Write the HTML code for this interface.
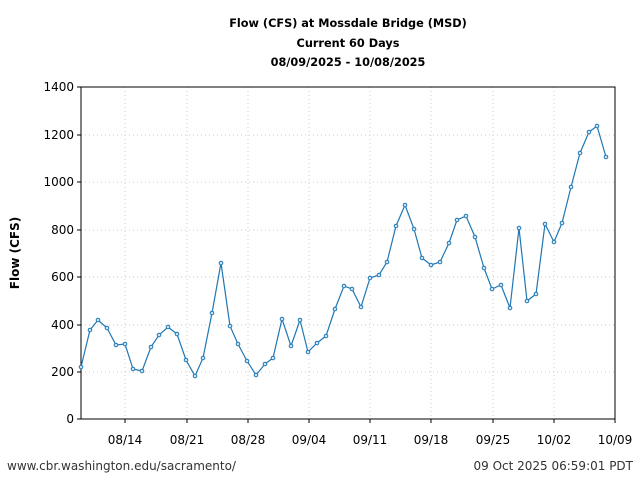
<!DOCTYPE html>
<html><head><meta charset="utf-8"><style>body{margin:0;background:#fff}svg{display:block}text{font-family:"DejaVu Sans","Liberation Sans",sans-serif}</style></head><body>
<svg width="640" height="480" viewBox="0 0 640 480">
<rect width="640" height="480" fill="#fff"/>
<g font-size="11.3" font-weight="bold" text-anchor="middle" fill="#000">
<text x="348" y="27">Flow (CFS) at Mossdale Bridge (MSD)</text>
<text x="348" y="47">Current 60 Days</text>
<text x="348" y="66">08/09/2025 - 10/08/2025</text>
</g>
<g stroke="#ccc" stroke-dasharray="1,3" stroke-width="1">
<line x1="125" y1="87" x2="125" y2="419"/><line x1="187" y1="87" x2="187" y2="419"/><line x1="248" y1="87" x2="248" y2="419"/><line x1="309" y1="87" x2="309" y2="419"/><line x1="370" y1="87" x2="370" y2="419"/><line x1="431" y1="87" x2="431" y2="419"/><line x1="493" y1="87" x2="493" y2="419"/><line x1="554" y1="87" x2="554" y2="419"/>
<line x1="81" y1="372" x2="615" y2="372"/><line x1="81" y1="325" x2="615" y2="325"/><line x1="81" y1="277" x2="615" y2="277"/><line x1="81" y1="230" x2="615" y2="230"/><line x1="81" y1="182" x2="615" y2="182"/><line x1="81" y1="135" x2="615" y2="135"/>
</g>
<rect x="81" y="87" width="534" height="332" fill="none" stroke="#000" stroke-width="1"/>
<g stroke="#000"><line x1="77" y1="419" x2="81" y2="419"/><line x1="77" y1="372" x2="81" y2="372"/><line x1="77" y1="325" x2="81" y2="325"/><line x1="77" y1="277" x2="81" y2="277"/><line x1="77" y1="230" x2="81" y2="230"/><line x1="77" y1="182" x2="81" y2="182"/><line x1="77" y1="135" x2="81" y2="135"/><line x1="77" y1="87" x2="81" y2="87"/>
<line x1="125" y1="419" x2="125" y2="423"/><line x1="187" y1="419" x2="187" y2="423"/><line x1="248" y1="419" x2="248" y2="423"/><line x1="309" y1="419" x2="309" y2="423"/><line x1="370" y1="419" x2="370" y2="423"/><line x1="431" y1="419" x2="431" y2="423"/><line x1="493" y1="419" x2="493" y2="423"/><line x1="554" y1="419" x2="554" y2="423"/><line x1="615" y1="419" x2="615" y2="423"/></g>
<g font-size="12" text-anchor="end" fill="#000">
<text x="74" y="423">0</text><text x="74" y="376">200</text><text x="74" y="329">400</text><text x="74" y="281">600</text><text x="74" y="234">800</text><text x="74" y="186">1000</text><text x="74" y="139">1200</text><text x="74" y="91">1400</text>
</g>
<g font-size="12" text-anchor="middle" fill="#000">
<text x="125" y="444">08/14</text><text x="187" y="444">08/21</text><text x="248" y="444">08/28</text><text x="309" y="444">09/04</text><text x="370" y="444">09/11</text><text x="431" y="444">09/18</text><text x="493" y="444">09/25</text><text x="554" y="444">10/02</text><text x="615" y="444">10/09</text>
</g>
<text x="19" y="253" font-size="12" font-weight="bold" text-anchor="middle" transform="rotate(-90 19 253)">Flow (CFS)</text>
<polyline fill="none" stroke="#1f77b4" stroke-width="1.2" points="81,367 90,330 98,320 107,328 116,345 125,344 133,369 142,371 151,347 159,335 168,327 177,334 186,360 195,376 203,358 212,313 221,263 230,326 238,344 247,361 256,375 265,364 273,358 282,319 291,346 300,320 308,352 317,343 326,336 335,309 344,286 352,289 361,307 370,278 379,275 387,262 396,226 405,205 414,229 422,258 431,265 440,262 449,243 457,220 466,216 475,237 484,268 492,289 501,285 510,308 519,228 527,301 536,294 545,224 554,242 562,223 571,187 580,153 589,132 597,126 606,157"/>
<g fill="#cfe3f2" stroke="#1f77b4" stroke-width="1">
<circle cx="81" cy="367" r="1.8"/><circle cx="90" cy="330" r="1.8"/><circle cx="98" cy="320" r="1.8"/><circle cx="107" cy="328" r="1.8"/><circle cx="116" cy="345" r="1.8"/><circle cx="125" cy="344" r="1.8"/><circle cx="133" cy="369" r="1.8"/><circle cx="142" cy="371" r="1.8"/><circle cx="151" cy="347" r="1.8"/><circle cx="159" cy="335" r="1.8"/><circle cx="168" cy="327" r="1.8"/><circle cx="177" cy="334" r="1.8"/><circle cx="186" cy="360" r="1.8"/><circle cx="195" cy="376" r="1.8"/><circle cx="203" cy="358" r="1.8"/><circle cx="212" cy="313" r="1.8"/><circle cx="221" cy="263" r="1.8"/><circle cx="230" cy="326" r="1.8"/><circle cx="238" cy="344" r="1.8"/><circle cx="247" cy="361" r="1.8"/><circle cx="256" cy="375" r="1.8"/><circle cx="265" cy="364" r="1.8"/><circle cx="273" cy="358" r="1.8"/><circle cx="282" cy="319" r="1.8"/><circle cx="291" cy="346" r="1.8"/><circle cx="300" cy="320" r="1.8"/><circle cx="308" cy="352" r="1.8"/><circle cx="317" cy="343" r="1.8"/><circle cx="326" cy="336" r="1.8"/><circle cx="335" cy="309" r="1.8"/><circle cx="344" cy="286" r="1.8"/><circle cx="352" cy="289" r="1.8"/><circle cx="361" cy="307" r="1.8"/><circle cx="370" cy="278" r="1.8"/><circle cx="379" cy="275" r="1.8"/><circle cx="387" cy="262" r="1.8"/><circle cx="396" cy="226" r="1.8"/><circle cx="405" cy="205" r="1.8"/><circle cx="414" cy="229" r="1.8"/><circle cx="422" cy="258" r="1.8"/><circle cx="431" cy="265" r="1.8"/><circle cx="440" cy="262" r="1.8"/><circle cx="449" cy="243" r="1.8"/><circle cx="457" cy="220" r="1.8"/><circle cx="466" cy="216" r="1.8"/><circle cx="475" cy="237" r="1.8"/><circle cx="484" cy="268" r="1.8"/><circle cx="492" cy="289" r="1.8"/><circle cx="501" cy="285" r="1.8"/><circle cx="510" cy="308" r="1.8"/><circle cx="519" cy="228" r="1.8"/><circle cx="527" cy="301" r="1.8"/><circle cx="536" cy="294" r="1.8"/><circle cx="545" cy="224" r="1.8"/><circle cx="554" cy="242" r="1.8"/><circle cx="562" cy="223" r="1.8"/><circle cx="571" cy="187" r="1.8"/><circle cx="580" cy="153" r="1.8"/><circle cx="589" cy="132" r="1.8"/><circle cx="597" cy="126" r="1.8"/><circle cx="606" cy="157" r="1.8"/>
</g>
<text x="7" y="470" font-size="12" fill="#333">www.cbr.washington.edu/sacramento/</text>
<text x="633" y="470" font-size="12" fill="#333" text-anchor="end">09 Oct 2025 06:59:01 PDT</text>
</svg>
</body></html>
